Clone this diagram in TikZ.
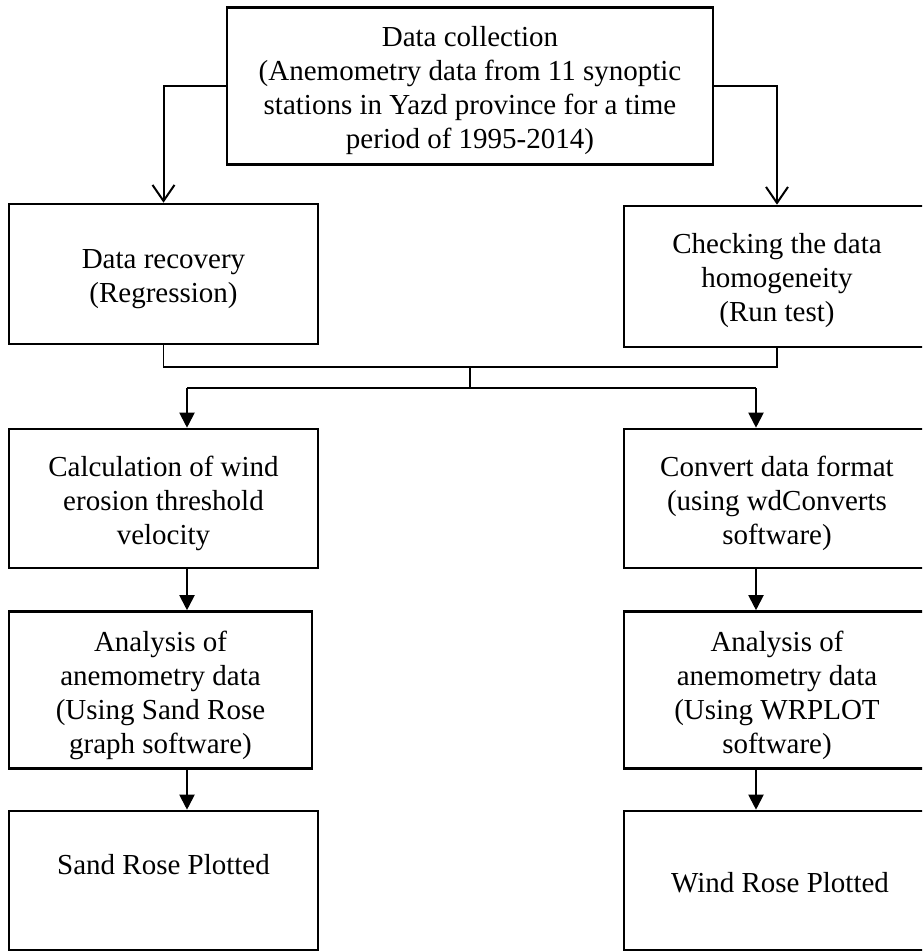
\documentclass[tikz,border=0pt]{standalone}
\usepackage{fontspec}
\setmainfont{Liberation Serif}
\usetikzlibrary{arrows.meta}
\begin{document}
\begin{tikzpicture}[x=1pt,y=-1pt,
  box/.style={draw=black,line width=2.6pt,inner sep=0pt},
  lbl/.style={font=\fontsize{29}{34}\selectfont,inner sep=0pt,align=center},
  thinln/.style={line width=1.3pt},
  openarrow/.style={line width=2pt,-{Straight Barb[length=16pt,width=22pt]}},
  farrow/.style={line width=2pt,-{Triangle[length=15pt,width=15pt]}}]
\useasboundingbox (0,0) rectangle (922,951);
\clip (0,0) rectangle (922,951);
\fill[white] (0,0) rectangle (922,951);

% boxes
\node[box,minimum width=486pt,minimum height=157pt] (top) at (470,86) {};
\node[box,minimum width=309pt,minimum height=140pt] (dr) at (163.5,274) {};
\node[box,minimum width=306pt,minimum height=141pt] (ck) at (777,276.5) {};
\node[box,minimum width=309pt,minimum height=139pt] (calc) at (163.5,498.5) {};
\node[box,minimum width=306pt,minimum height=139pt] (conv) at (777,498.5) {};
\node[box,minimum width=303pt,minimum height=157pt] (anl) at (160.5,690) {};
\node[box,minimum width=306pt,minimum height=157pt] (anr) at (777,690) {};
\node[box,minimum width=309pt,minimum height=139pt] (sr) at (163.5,880.5) {};
\node[box,minimum width=306pt,minimum height=139pt] (wr) at (777,880.5) {};

% texts
\node[lbl] (topt) at ([yshift=-5pt]top.center)
  {Data collection\\(Anemometry data from 11 synoptic\\stations in Yazd province for a time\\period of 1995-2014)};
\node[lbl] (drt) at ([yshift=-5pt]dr.center) {Data recovery\\(Regression)};
\node[lbl] (ckt) at ([yshift=-4pt]ck.center) {Checking the data\\homogeneity\\(Run test)};
\node[lbl] (calct) at ([yshift=-5pt]calc.center) {Calculation of wind\\erosion threshold\\velocity};
\node[lbl] (convt) at ([yshift=-5pt]conv.center) {Convert data format\\(using wdConverts\\software)};
\node[lbl] (anlt) at ([yshift=-5pt]anl.center) {Analysis of\\anemometry data\\(Using Sand Rose\\graph software)};
\node[lbl] (anrt) at ([yshift=-5pt]anr.center) {Analysis of\\anemometry data\\(Using WRPLOT\\software)};
\node[lbl] (srt) at (163.5,865) {Sand Rose Plotted};
\node[lbl] (wrt) at (780,883) {Wind Rose Plotted};

% top split
\draw[openarrow] (top.west) -| (dr.north);
\draw[openarrow] (top.east) -| (ck.north);

% merge bracket
\coordinate (j1) at (470,367);
\coordinate (j2) at (470,388);
\coordinate (jl) at (187,388);
\coordinate (jr) at (756,388);
\draw[thinln] (dr.south) |- (j1);
\draw[thinln] (ck.south) |- (j1);
\draw[thinln] (j1) -- (j2);
\draw[thinln] (jl) -- (jr);
\draw[farrow] (jl) -- (jl |- calc.north);
\draw[farrow] (jr) -- (jr |- conv.north);

% vertical flows
\coordinate (cl) at (187,0);
\coordinate (cr) at (756,0);
\draw[farrow] (cl |- calc.south) -- (cl |- anl.north);
\draw[farrow] (cr |- conv.south) -- (cr |- anr.north);
\draw[farrow] (cl |- anl.south) -- (cl |- sr.north);
\draw[farrow] (cr |- anr.south) -- (cr |- wr.north);
\end{tikzpicture}
\end{document}
